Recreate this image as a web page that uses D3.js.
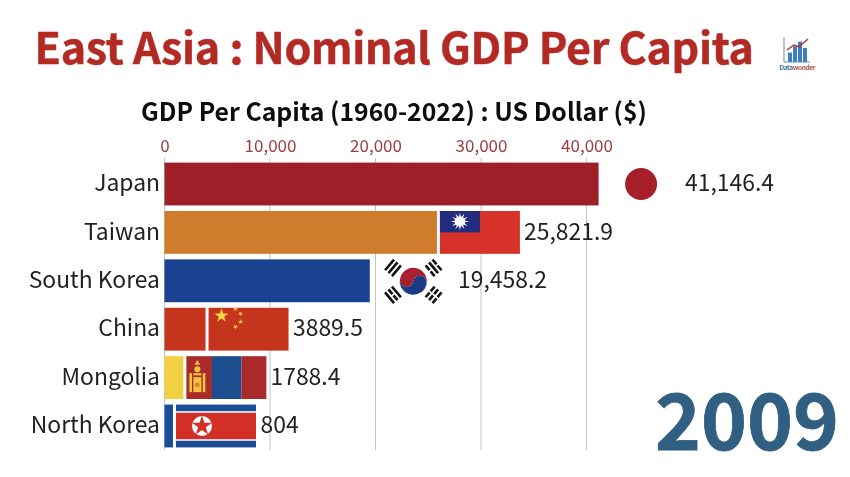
<!DOCTYPE html>
<html><head><meta charset="utf-8">
<script src="https://cdn.jsdelivr.net/npm/d3@7"></script>
<style>html,body{margin:0;padding:0;background:#fff;overflow:hidden}svg{display:block}text{font-family:"Noto Sans CJK SC","Noto Sans",sans-serif}</style>
</head><body><div id="chart"></div>
<script>
const titleText = "East Asia : Nominal GDP Per Capita";
const subtitleText = "GDP Per Capita (1960-2022) : US Dollar ($)";
const yearText = "2009";
const countries = ["Japan","Taiwan","South Korea","China","Mongolia","North Korea"];
const gdpValues = [41146.4,25821.9,19458.2,3889.5,1788.4,804];
const valueLabels = ["41,146.4","25,821.9","19,458.2","3889.5","1788.4","804"];
const barColors = ["#9e1f27","#cf7d2c","#1a4190","#c5351d","#f2d043","#1b4d97"];
const tickValues = [0,10000,20000,30000,40000];
const logoBars = [6,10,13,9];

const W=850,H=477;
const svg=d3.select("#chart").append("svg").attr("width",W).attr("height",H).style("filter","blur(0.35px)");
const x=d3.scaleLinear().domain([0,40000]).range([164.5,586.5]);
const y=d3.scaleBand().domain(countries).range([162.6,447.4]).paddingInner(0.115).paddingOuter(0);
const bh=y.bandwidth(), FW=80, GAP=3;

svg.append("text").attr("x",34.5).attr("y",64.3).attr("font-size",43).attr("font-weight",700).attr("fill","#b32a24").attr("stroke","#b32a24").attr("stroke-width",0.5).attr("textLength",719.5).text(titleText);
svg.append("text").attr("x",394).attr("y",120.5).attr("text-anchor","middle").attr("font-size",24.8).attr("font-weight",700).attr("fill","#0d0d0d").text(subtitleText);

const axis=d3.axisTop(x).tickValues(tickValues).tickFormat(d3.format(",")).tickSize(0);
const ax=svg.append("g").attr("transform","translate(0,155)").call(axis);
ax.select(".domain").remove();
ax.selectAll("text").attr("font-size",17).attr("fill","#a04044").attr("dy",0);
svg.append("g").selectAll("line").data(tickValues).join("line")
 .attr("x1",d=>x(d)).attr("x2",d=>x(d)).attr("y1",158).attr("y2",450).attr("stroke","#c4c4c4").attr("stroke-width",1);

svg.append("g").selectAll("rect").data(countries).join("rect")
 .attr("x",x(0)).attr("y",d=>y(d)).attr("height",bh).attr("width",(d,i)=>x(gdpValues[i])-x(0)).attr("fill",(d,i)=>barColors[i]);

svg.append("g").selectAll("text").data(countries).join("text")
 .attr("x",160).attr("y",d=>y(d)+bh/2-1).attr("dy","0.36em").attr("text-anchor","end").attr("font-size",22.9).attr("fill","#222").text(d=>d);

const flagX=i=>x(gdpValues[i])+GAP;
const labelX=[685,524,458,293,270.5,260.5];
svg.append("g").selectAll("text").data(valueLabels).join("text")
 .attr("x",(d,i)=>labelX[i]).attr("y",(d,i)=>y(countries[i])+bh/2-1).attr("dy","0.36em").attr("font-size",22.9).attr("fill","#222").text(d=>d);

function flag(i){return svg.append("g").attr("transform",`translate(${flagX(i)},${y(countries[i])})`);}
const star=(g,cx,cy,size,fill,rot=0)=>g.append("path").attr("d",d3.symbol(d3.symbolStar,size)()).attr("transform",`translate(${cx},${cy}) rotate(${rot})`).attr("fill",fill);

// Japan
{const g=flag(0);g.append("circle").attr("cx",FW/2-0.5).attr("cy",bh/2).attr("r",16).attr("fill","#a81f2a");}
// Taiwan
{const g=flag(1);g.append("rect").attr("width",FW).attr("height",bh).attr("fill","#d6322a");
 g.append("rect").attr("width",FW/2).attr("height",bh/2).attr("fill","#232c7e");
 const c=[FW/4,bh/4-0.3];
 d3.range(12).forEach(k=>g.append("path").attr("d","M-1.8,0L0,-9L1.8,0Z").attr("fill","#fff").attr("transform",`translate(${c}) rotate(${k*30})`));
 g.append("circle").attr("cx",c[0]).attr("cy",c[1]).attr("r",5).attr("fill","#fff");}
// South Korea
{const g=flag(2);const cx=FW/2+0.5,cy=bh/2+0.5,r=13.5;
 const rest=`A${r/2},${r/2} 0 0 0 ${cx},${cy}A${r/2},${r/2} 0 0 1 ${cx-r},${cy}Z`;
 g.append("path").attr("d",`M${cx-r},${cy}A${r},${r} 0 0 1 ${cx+r},${cy}`+rest).attr("fill","#a8202f").attr("transform",`rotate(10 ${cx} ${cy})`);
 g.append("path").attr("d",`M${cx-r},${cy}A${r},${r} 0 0 0 ${cx+r},${cy}`+rest).attr("fill","#1a3b86").attr("transform",`rotate(10 ${cx} ${cy})`);
 const tri=[[-1,-1,-50,[0,0,0]],[1,-1,50,[1,0,1]],[-1,1,50,[0,1,0]],[1,1,-50,[1,1,1]]];
 tri.forEach(([sx,sy,rot,pat])=>{
  const t=g.append("g").attr("transform",`translate(${cx+sx*20.3},${cy+sy*13.5}) rotate(${rot})`);
  pat.forEach((br,k)=>{
   const o=(k-1)*4.5;
   (br?[[-7,6.2],[0.8,6.2]]:[[-7,14]]).forEach(([s,l])=>t.append("rect").attr("x",s).attr("y",o-1.3).attr("width",l).attr("height",2.6).attr("fill","#111"));
  });
 });}
// China
{const g=flag(3);g.append("rect").attr("width",FW).attr("height",bh).attr("fill","#c5351d");
 star(g,13,8,62,"#f5d53f");
 [[27,1,0],[32,6,30],[32,14,0],[27,19,30]].forEach(p=>star(g,p[0],p[1],8,"#f5d53f",p[2]));}
// Mongolia
{const g=flag(4);
 [[0,.32,"#ab2a2a"],[.32,.69,"#1b4d8f"],[.69,1,"#ab2a2a"]].forEach(([a,b,c])=>g.append("rect").attr("x",a*FW).attr("width",(b-a)*FW).attr("height",bh).attr("fill",c));
 const s="#efc63f",cx=11;
 g.append("circle").attr("cx",cx).attr("cy",13).attr("r",3).attr("fill",s);
 g.append("path").attr("d",d3.symbol(d3.symbolTriangle,14)()).attr("transform",`translate(${cx},7)`).attr("fill",s);
 g.append("rect").attr("x",cx-8).attr("y",17).attr("width",2.6).attr("height",19).attr("fill",s);
 g.append("rect").attr("x",cx+5.4).attr("y",17).attr("width",2.6).attr("height",19).attr("fill",s);
 g.append("rect").attr("x",cx-4).attr("y",17).attr("width",8).attr("height",2.2).attr("fill",s);
 g.append("rect").attr("x",cx-4).attr("y",21).attr("width",8).attr("height",15).attr("fill",s);
 g.append("circle").attr("cx",cx).attr("cy",28.5).attr("r",2.5).attr("fill","#d98a30");}
// North Korea
{const g=flag(5);g.append("rect").attr("width",FW).attr("height",bh).attr("fill","#1b4d97");
 g.append("rect").attr("y",bh*0.15).attr("width",FW).attr("height",bh*0.7).attr("fill","#d8d8e0");
 g.append("rect").attr("y",bh*0.195).attr("width",FW).attr("height",bh*0.61).attr("fill","#d22f27");
 g.append("circle").attr("cx",26).attr("cy",bh/2).attr("r",10).attr("fill","#fff");
 star(g,26,bh/2,125,"#d22f27");}

// Year
svg.append("text").attr("x",655).attr("y",450).attr("font-size",78).attr("font-weight",700).attr("fill","#315f82").attr("stroke","#315f82").attr("stroke-width",0.8).attr("textLength",184).text(yearText);

// Logo
{const g=svg.append("g").attr("transform","translate(784,37)");
 const lx=d3.scaleBand().domain(logoBars.map((d,i)=>i)).range([3,24]).padding(0.2);
 const ly=d3.scaleLinear().domain([0,16]).range([25,0]);
 g.selectAll("rect").data(logoBars).join("rect").attr("x",(d,i)=>lx(i)).attr("y",d=>ly(d)).attr("width",lx.bandwidth()).attr("height",d=>25-ly(d)).attr("fill","#3a7fc0");
 g.append("path").attr("d","M0,0V25H26").attr("fill","none").attr("stroke","#5a8fc0").attr("stroke-width",1);
 g.append("path").attr("d","M3,13L10,8L15,10L24,2").attr("fill","none").attr("stroke","#b5312f").attr("stroke-width",1.5);
 const lg=g.append("text").attr("x",-4.5).attr("y",33).attr("font-size",6.6).attr("font-weight",700).attr("textLength",36);
 lg.append("tspan").attr("fill","#3a6ea8").text("Data");
 lg.append("tspan").attr("fill","#a8544a").text("wonder");}
</script></body></html>
